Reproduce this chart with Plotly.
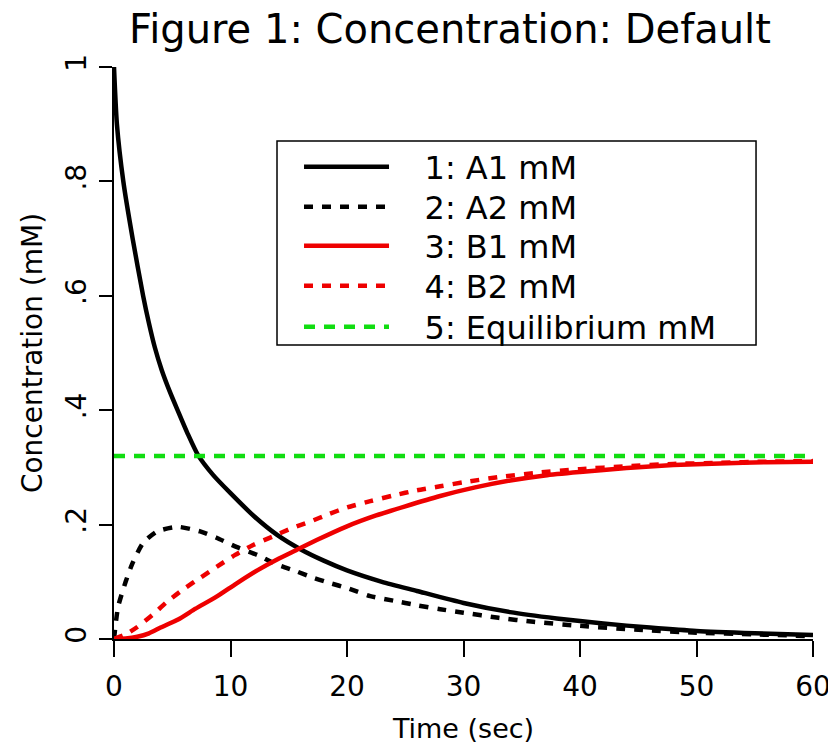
import plotly.graph_objects as go

# ---- data ----
a1_t = [0, 0.25, 0.8, 1.6, 2.5, 3.0, 3.5, 4.1, 4.8, 5.5, 6.3, 7.2, 8.5, 10, 12, 14, 16, 18, 20, 23, 26, 30, 34, 38,
        42, 46, 50, 55, 60]
a1_vals = [1.0, 0.9, 0.8, 0.7, 0.6, 0.552, 0.51, 0.47, 0.432, 0.398, 0.36, 0.322, 0.287, 0.255, 0.215, 0.182, 0.157,
           0.137, 0.12, 0.1, 0.084, 0.063, 0.047, 0.036, 0.027, 0.02, 0.014, 0.01, 0.007]

a2_t = [0, 0.35, 1, 1.6, 2.5, 3.7, 5.5, 7.4, 8.8, 10.5, 12.3, 14, 15.7, 17.1, 18.5, 20, 22, 24, 26, 28, 30, 33, 36, 40,
        45, 50, 55, 60]
a2_vals = [0, 0.056, 0.1, 0.133, 0.168, 0.188, 0.196, 0.188, 0.177, 0.161, 0.147, 0.13, 0.118, 0.107, 0.098, 0.089,
           0.075, 0.067, 0.059, 0.052, 0.046, 0.037, 0.03, 0.023, 0.016, 0.011, 0.008, 0.005]

b1_t = [0, 1, 2, 3, 4, 5.5, 7, 8.8, 10.5, 12.3, 14, 15.7, 17.4, 20, 22.5, 25, 28, 31, 34, 37, 40, 44, 48, 52, 56, 60]
b1_vals = [0, 0.001, 0.004, 0.01, 0.02, 0.034, 0.053, 0.074, 0.097, 0.12, 0.139, 0.156, 0.173, 0.197, 0.216, 0.232,
           0.25, 0.265, 0.277, 0.286, 0.292, 0.299, 0.304, 0.307, 0.309, 0.31]

b2_t = [0, 1, 2, 3.3, 4.6, 6.1, 7.4, 8.8, 10.4, 11.9, 13.6, 15.3, 16.8, 18.4, 20, 22, 24, 26, 28, 30, 33, 36, 40, 44,
        48, 52, 56, 60]
b2_vals = [0, 0.008, 0.021, 0.042, 0.066, 0.089, 0.107, 0.126, 0.147, 0.164, 0.179, 0.194, 0.205, 0.218, 0.23, 0.241,
           0.251, 0.26, 0.267, 0.274, 0.283, 0.29, 0.297, 0.302, 0.306, 0.308, 0.31, 0.311]

eq_t = [0, 60]
eq_vals = [0.32, 0.32]

series_names = ["1: A1 mM", "2: A2 mM", "3: B1 mM", "4: B2 mM", "5: Equilibrium mM"]
x_ticks = [0, 10, 20, 30, 40, 50, 60]
y_ticks = [0, 0.2, 0.4, 0.6, 0.8, 1]
y_tick_labels = ["0", ".2", ".4", ".6", ".8", "1"]

FONT = "DejaVu Sans"
BLACK = "#000000"
RED = "#ee0000"
GREEN = "#11dd11"

fig = go.Figure()
specs = [
    (a1_t, a1_vals, BLACK, "solid"),
    (a2_t, a2_vals, BLACK, "9px,9px"),
    (b1_t, b1_vals, RED, "solid"),
    (b2_t, b2_vals, RED, "9px,9px"),
    (eq_t, eq_vals, GREEN, "11px,9px"),
]
legend_ids = ["legend", "legend2", "legend3", "legend4", "legend5"]
legend_rows_y = [0.8252, 0.7552, 0.6871, 0.6171, 0.5455]
PAD = "\u00a0\u00a0\u00a0"
for i, (xs, ys, col, dash) in enumerate(specs):
    fig.add_trace(go.Scatter(
        x=xs, y=ys, mode="lines", name=PAD + series_names[i],
        line=dict(color=col, width=4.5, dash=dash, shape="spline", smoothing=0.6),
        legend=legend_ids[i],
    ))

# legend frame (drawn behind the legend entries)
fig.add_shape(type="rect", xref="paper", yref="paper", x0=0.2332, x1=0.9185, y0=0.514, y1=0.8706,
              line=dict(color="black", width=1.5), fillcolor="white", layer="above")

legend_common = dict(x=0.2647, xanchor="left", yanchor="middle", bgcolor="rgba(0,0,0,0)", borderwidth=0,
                     font=dict(family=FONT, size=32, color="black"), itemwidth=85)
legend_layout = {lid: dict(y=legend_rows_y[i], **legend_common) for i, lid in enumerate(legend_ids)}

fig.update_layout(
    width=836, height=749,
    margin=dict(l=106, r=31, t=59, b=118, autoexpand=False),
    paper_bgcolor="white", plot_bgcolor="white",
    font=dict(family=FONT, color="black", size=27),
    title=dict(text="Figure 1: Concentration: Default", font=dict(family=FONT, size=40, color="black"),
               x=0.5287, xanchor="center", xref="container", y=0.991, yanchor="top", yref="container"),
    showlegend=True,
    xaxis=dict(
        range=[0, 60], tickvals=x_ticks, ticks="outside", ticklen=16, tickwidth=1.5, tickcolor="black",
        showline=True, linecolor="black", linewidth=1.5, showgrid=False, zeroline=False, automargin=False,
        ticklabelstandoff=6,
        tickfont=dict(size=28), title=dict(text="Time (sec)", font=dict(size=27), standoff=17),
    ),
    yaxis=dict(
        range=[0, 1], tickvals=y_ticks, ticktext=y_tick_labels, tickangle=-90,
        ticks="outside", ticklen=13, tickwidth=1.5, tickcolor="black", automargin=False,
        showline=True, linecolor="black", linewidth=1.5, showgrid=False, zeroline=False,
        ticklabelstandoff=2,
        tickfont=dict(size=28), title=dict(text="Concentration (mM)", font=dict(size=28), standoff=9),
    ),
    **legend_layout,
)

fig.write_html("out.html")
